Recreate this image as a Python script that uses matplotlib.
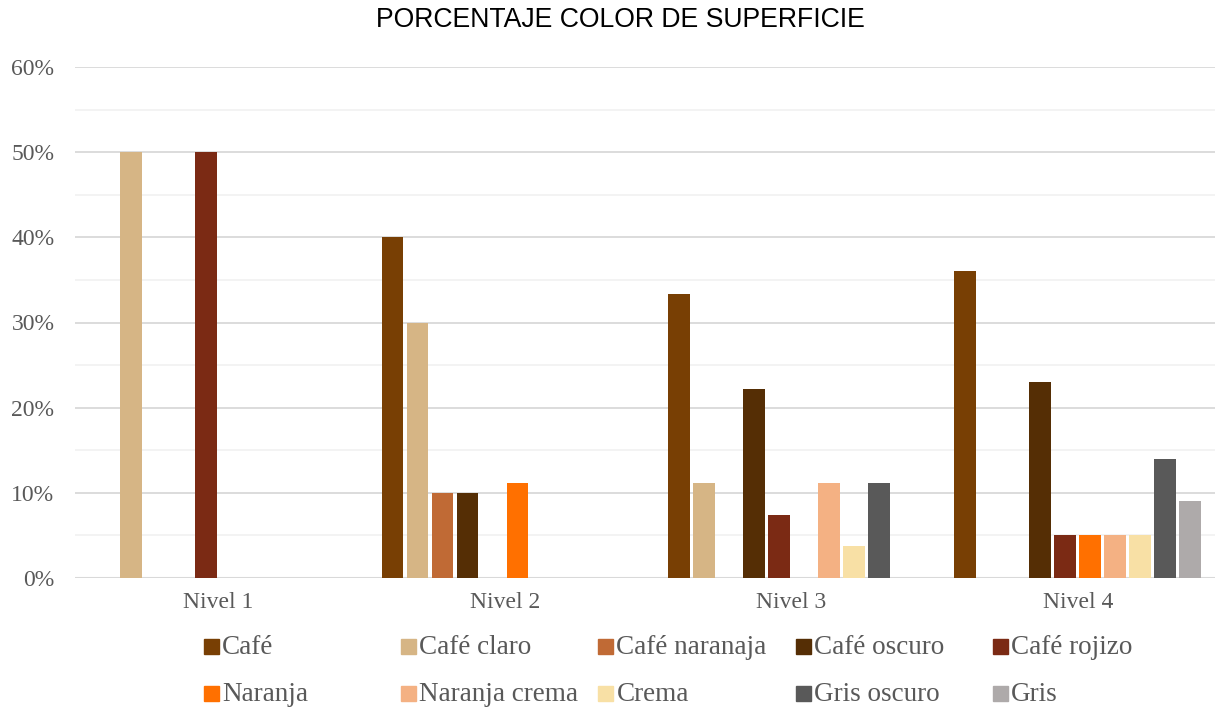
import numpy as np
import matplotlib
matplotlib.use("Agg")
import matplotlib.pyplot as plt
from matplotlib.patches import Rectangle
from matplotlib.ticker import MultipleLocator, PercentFormatter

niveles = ['Nivel 1', 'Nivel 2', 'Nivel 3', 'Nivel 4']
series = ['Café', 'Café claro', 'Café naranaja', 'Café oscuro', 'Café rojizo',
          'Naranja', 'Naranja crema', 'Crema', 'Gris oscuro', 'Gris']
cafe = [0, 40, 33.3, 36]
cafe_claro = [50, 30, 11.1, 0]
cafe_naranaja = [0, 10, 0, 0]
cafe_oscuro = [0, 10, 22.2, 23]
cafe_rojizo = [50, 0, 7.4, 5]
naranja = [0, 11.1, 0, 5]
naranja_crema = [0, 0, 11.1, 5]
crema = [0, 0, 3.7, 5]
gris_oscuro = [0, 0, 11.1, 14]
gris = [0, 0, 0, 9]
valores = [cafe, cafe_claro, cafe_naranaja, cafe_oscuro, cafe_rojizo,
           naranja, naranja_crema, crema, gris_oscuro, gris]
colores = ['#783F04', '#D6B585', '#C06A35', '#552E05', '#7B2A14',
           '#FF7000', '#F4B183', '#F8E0A5', '#595959', '#AEAAAA']

W, H = 1215, 709
fig = plt.figure(figsize=(W / 100, H / 100), dpi=100)
# plot area runs slightly past the right edge of the picture
ax = fig.add_axes([75.3 / W, 1 - 578 / H, 1145.6 / W, (578 - 67) / H])

x = np.arange(len(niveles))
slot = 0.0873
width = 0.0758
for j, (name, vals, c) in enumerate(zip(series, valores, colores)):
    ax.bar(x + (j - 4.5) * slot, vals, width=width, color=c, zorder=3)

ax.set_xlim(-0.5, 3.5)
ax.set_ylim(0, 60)
ax.yaxis.set_major_locator(MultipleLocator(10))
ax.yaxis.set_minor_locator(MultipleLocator(5))
ax.yaxis.set_major_formatter(PercentFormatter(decimals=0))
ax.grid(axis='y', which='major', color='#D9D9D9', lw=1.3, zorder=1)
ax.grid(axis='y', which='minor', color='#F2F2F2', lw=1.3, zorder=0)
for s in ax.spines.values():
    s.set_visible(False)
ax.axhline(0, color='#D9D9D9', lw=1.5, zorder=2)
ax.set_xticks(x)
ax.set_xticklabels(niveles)
ax.tick_params(which='both', length=0)
ax.tick_params(axis='y', pad=15)
ax.tick_params(axis='x', pad=10)
for lab in ax.get_xticklabels() + ax.get_yticklabels():
    lab.set_family('Liberation Serif')
    lab.set_fontsize(17)
    lab.set_color('#595959')

fig.text(620.5 / W, 1 - 20 / H, 'PORCENTAJE COLOR DE SUPERFICIE',
         family='Liberation Sans', fontsize=19.2, color='black',
         ha='center', va='center')

# legend, 2 rows x 5 columns
for i, (name, c) in enumerate(zip(series, colores)):
    col, row = i % 5, i // 5
    px = 204 + col * 197.2
    py = 646 + row * 47
    fig.add_artist(Rectangle((px / W, 1 - (py + 7.5) / H), 15 / W, 15 / H,
                             transform=fig.transFigure, color=c))
    fig.text((px + 18) / W, 1 - (py + 8) / H, name, family='Liberation Serif',
             fontsize=19.5, color='#595959', ha='left', va='baseline')

fig.savefig('out.png', dpi=100)
